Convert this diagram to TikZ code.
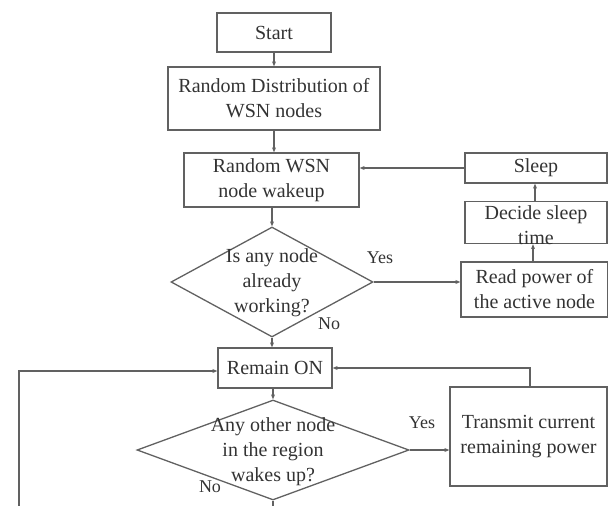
\documentclass[tikz,border=0pt]{standalone}
\usepackage{fontspec}
\setmainfont{Liberation Serif}
\usetikzlibrary{shapes.geometric,arrows.meta}
\definecolor{lncol}{gray}{0.38}
\definecolor{txcol}{gray}{0.2}
\begin{document}
\begin{tikzpicture}[x=1pt,y=-1pt,
  box/.style={draw=lncol, line width=1.3pt, inner sep=0pt, text=txcol, align=center, font=\fontsize{20}{25}\selectfont},
  dia/.style={draw=lncol, line width=1.3pt, diamond, inner sep=0pt},
  txt/.style={text=txcol, align=center, inner sep=0pt, font=\fontsize{20}{25}\selectfont},
  lab/.style={text=txcol, inner sep=0pt, font=\fontsize{18}{22}\selectfont},
  arr/.style={draw=lncol, line width=1.3pt, -{Stealth[length=5pt,width=4pt]}},
  plain/.style={draw=lncol, line width=1.3pt}]
\useasboundingbox (0,0) rectangle (608,506);
% boxes
\node[box, minimum width=114pt, minimum height=39pt] (start) at (274,32.5) {Start};
\node[box, minimum width=212pt, minimum height=63pt] (dist) at (274,98.5) {Random Distribution of\\WSN nodes};
\node[box, minimum width=175pt, minimum height=54pt] (wake) at (271.5,180) {Random WSN\\node wakeup};
\node[dia, minimum width=202pt, minimum height=110pt] (d1) at (272,282) {};
\node[txt] (d1txt) at (272,283) {Is any node\\already\\working?};
\node[box, minimum width=114pt, minimum height=40pt] (remain) at (275,368) {Remain ON};
\node[dia, minimum width=272pt, minimum height=100pt] (d2) at (273,450) {};
\node[txt] (d2txt) at (273,452) {Any other node\\in the region\\wakes up?};
\node[box, minimum width=142pt, minimum height=30pt] (sleep) at (536,168) {Sleep};
\node[box, minimum width=142pt, minimum height=42pt] (decide) at (536,222.5) {};
\node[txt] (decidetxt) at (536,225.5) {Decide sleep\\time};
\node[box, minimum width=147pt, minimum height=55pt] (read) at (534.5,289.5) {Read power of\\the active node};
\node[box, minimum width=157pt, minimum height=99pt] (trans) at (528.5,436.5) {Transmit current\\remaining power};
% labels
\node[lab] (yes1) at (380,258) {Yes};
\node[lab] (no1) at (329,324) {No};
\node[lab] (yes2) at (422,423) {Yes};
\node[lab] (no2) at (210,487) {No};
% free ends
\coordinate (lb) at (19,510);
\coordinate (db) at (273,510);
% connectors
\draw[arr] (start.south) -- (start.south |- dist.north);
\draw[arr] (dist.south) -- (dist.south |- wake.north);
\draw[arr] (d1.north |- wake.south) -- (d1.north);
\draw[arr] (d1.south) -- (d1.south |- remain.north);
\draw[arr] (d1.east) -- (d1.east -| read.west);
\draw[arr] (read.north -| 533,0) -- (decide.south -| 533,0);
\draw[arr] (decide.north -| 535,0) -- (sleep.south -| 535,0);
\draw[arr] (sleep.west) -- (sleep.west -| wake.east);
\draw[arr] (remain.south -| d2.north) -- (d2.north);
\draw[arr] (d2.east) -- (d2.east -| trans.west);
\draw[arr] (trans.north -| 530,0) |- (remain.east);
\draw[arr] (lb) |- ([yshift=-3pt]remain.west);
\draw[plain] (d2.south) -- (db);
\end{tikzpicture}
\end{document}
